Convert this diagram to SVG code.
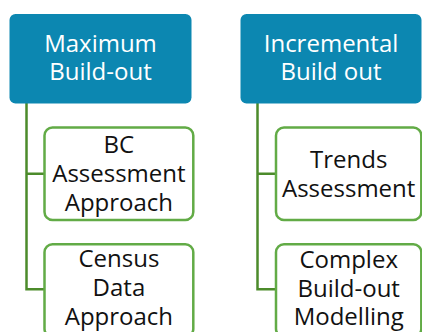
<svg xmlns="http://www.w3.org/2000/svg" width="422" height="332" viewBox="0 0 422 332">
  <style>
    .head { fill: #0c87b1; }
    .child { fill: #ffffff; stroke: #62ab46; stroke-width: 2.5; }
    .conn { fill: none; stroke: #4c8b2b; stroke-width: 2.5; }
    text { font-family: "Open Sans", "Noto Sans", "Liberation Sans", sans-serif; font-size: 24px; text-anchor: middle; }
    .ht { fill: #ffffff; }
    .ct { fill: #111111; }
  </style>
  <rect width="422" height="332" fill="#ffffff"/>
  <g id="connectors">
    <path class="conn" d="M26.5,103 V289.3 H44.5 M26.5,173.8 H44.5"/>
    <path class="conn" d="M257.5,103 V289.3 H276 M257.5,173.8 H276"/>
  </g>
  <g id="node-maximum">
    <rect class="head" x="9.5" y="14" width="182" height="89.5" rx="6"/>
    <text class="ht" x="100.5" y="52">Maximum</text>
    <text class="ht" x="100.5" y="80.3">Build-out</text>
  </g>
  <g id="node-incremental">
    <rect class="head" x="240.5" y="14" width="181" height="89.5" rx="6"/>
    <text class="ht" x="331" y="52">Incremental</text>
    <text class="ht" x="331" y="80.3">Build out</text>
  </g>
  <g id="node-bc">
    <rect class="child" x="44.5" y="127.5" width="148.8" height="92.5" rx="8"/>
    <text class="ct" x="118.9" y="152.7">BC</text>
    <text class="ct" x="118.9" y="181.7">Assessment</text>
    <text class="ct" x="118.9" y="210.7">Approach</text>
  </g>
  <g id="node-census">
    <rect class="child" x="44.5" y="244.3" width="148.8" height="92.5" rx="8"/>
    <text class="ct" x="118.9" y="267">Census</text>
    <text class="ct" x="118.9" y="296">Data</text>
    <text class="ct" x="118.9" y="325">Approach</text>
  </g>
  <g id="node-trends">
    <rect class="child" x="276" y="127.5" width="145.3" height="92.5" rx="8"/>
    <text class="ct" x="348.7" y="167.5">Trends</text>
    <text class="ct" x="348.7" y="196.5">Assessment</text>
  </g>
  <g id="node-complex">
    <rect class="child" x="276" y="244.3" width="145.3" height="92.5" rx="8"/>
    <text class="ct" x="348.7" y="267.5">Complex</text>
    <text class="ct" x="348.7" y="296.5">Build-out</text>
    <text class="ct" x="348.7" y="325">Modelling</text>
  </g>
</svg>
